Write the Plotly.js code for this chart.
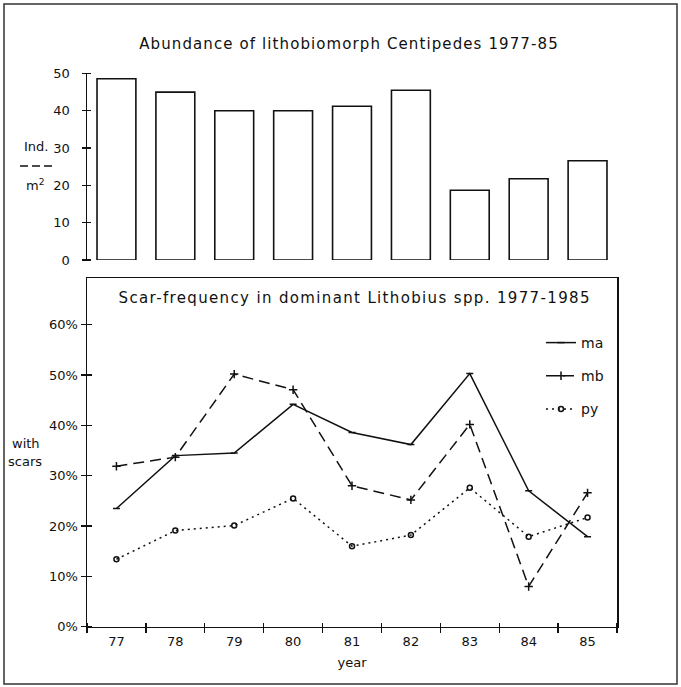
<!DOCTYPE html>
<html>
<head>
<meta charset="utf-8">
<script src="https://cdn.plot.ly/plotly-3.0.1.min.js"></script>
<style>
html,body{margin:0;padding:0;background:#fff;}
g.annotation[data-index="0"] text {letter-spacing: 1.1px;}
g.annotation[data-index="1"] text {letter-spacing: 1.35px;}
</style>
</head>
<body>
<div id="chart" style="width:681px;height:687px;"></div>
<script>
// Data
const years = [77, 78, 79, 80, 81, 82, 83, 84, 85];
const abundance = [48.6, 45.0, 40.0, 40.0, 41.2, 45.5, 18.7, 21.8, 26.6];
const ma = [23.5, 34.0, 34.5, 44.2, 38.6, 36.2, 50.3, 27.0, 17.9];
const mb = [31.9, 33.7, 50.2, 47.1, 28.0, 25.2, 40.2, 8.0, 26.6];
const py = [13.4, 19.1, 20.1, 25.5, 16.0, 18.2, 27.6, 17.9, 21.7];
const topTicks = [0, 10, 20, 30, 40, 50];
const bottomTicks = [0, 10, 20, 30, 40, 50, 60];
const bottomTickText = ['0%', '10%', '20%', '30%', '40%', '50%', '60%'];
const yearBounds = [76.5, 77.5, 78.5, 79.5, 80.5, 81.5, 82.5, 83.5, 84.5, 85.5];

const W = 681, H = 687;
const px = v => v / W;
const py_ = v => 1 - v / H;
const FONT = 'DejaVu Sans, Liberation Sans, sans-serif';
const ink = '#111';

const xDomain = [px(87), px(617)];
const xRange = [76.5, 85.5];
const topDomain = [py_(260), py_(73.5)];
const botDomain = [py_(626.7), py_(278)];
const botRange = [0, 69.3];

// invisible helper point (outside the range) so the tick-only overlay axes are built
const helper = (xa, ya) => ({type: 'scatter', mode: 'markers', x: [70], y: [-100], xaxis: xa, yaxis: ya,
  marker: {opacity: 0, size: 1}, showlegend: false, hoverinfo: 'skip'});

const traces = [
  {type: 'bar', x: years, y: abundance, xaxis: 'x', yaxis: 'y', width: 0.66,
   marker: {color: '#fff', line: {color: ink, width: 1.6}}, showlegend: false, hoverinfo: 'skip'},
  {type: 'scatter', mode: 'lines+markers', name: 'ma', x: years, y: ma, xaxis: 'x2', yaxis: 'y2',
   legendgroup: 'a', line: {color: ink, width: 1.5},
   marker: {symbol: 'line-ew-open', size: 5, color: ink, line: {color: ink, width: 1.5}}},
  {type: 'scatter', mode: 'lines+markers', name: 'mb', x: years, y: mb, xaxis: 'x2', yaxis: 'y2',
   legendgroup: 'b', line: {color: ink, width: 1.5, dash: '11px,6px'},
   marker: {symbol: 'cross-thin-open', size: 6, color: ink, line: {color: ink, width: 1.5}}},
  {type: 'scatter', mode: 'lines+markers', name: 'py', x: years, y: py, xaxis: 'x2', yaxis: 'y2',
   legendgroup: 'c', line: {color: ink, width: 1.5, dash: '2px,4px'},
   marker: {symbol: 'circle-open', size: 5, color: ink, line: {color: ink, width: 1.5}}},
  helper('x3', 'y2'),
  helper('x', 'y3'),
  helper('x2', 'y4')
];

const tickFont = {family: FONT, size: 13, color: ink};
const baseAx = {showgrid: false, zeroline: false, fixedrange: true, tickcolor: ink, tickwidth: 1.3};

const layout = {
  width: W, height: H,
  margin: {l: 0, r: 0, t: 0, b: 0},
  paper_bgcolor: '#fff', plot_bgcolor: 'rgba(0,0,0,0)',
  showlegend: true,
  font: {family: FONT, color: ink},
  xaxis: Object.assign({}, baseAx, {domain: xDomain, range: xRange, anchor: 'y', visible: false}),
  yaxis: Object.assign({}, baseAx, {domain: topDomain, range: [0, 50], anchor: 'x',
    tickmode: 'array', tickvals: topTicks, ticks: 'outside', ticklen: 4,
    showline: true, linecolor: ink, linewidth: 1.5, tickfont: tickFont, ticklabelstandoff: 9}),
  // tick-only axis shifted right so its ticks cross the main axis line
  yaxis3: Object.assign({}, baseAx, {domain: topDomain, range: [0, 50], overlaying: 'y', side: 'left',
    anchor: 'free', position: px(91), tickmode: 'array', tickvals: topTicks, ticks: 'outside', ticklen: 8,
    showticklabels: false, showline: false}),
  xaxis2: Object.assign({}, baseAx, {domain: xDomain, range: xRange, anchor: 'y2',
    tickmode: 'array', tickvals: years, ticks: '', showline: true, mirror: true,
    linecolor: ink, linewidth: 1.5, tickfont: tickFont, ticklabelstandoff: 2,
    title: {text: 'year', font: {family: FONT, size: 13, color: ink}, standoff: 10}}),
  xaxis3: Object.assign({}, baseAx, {domain: xDomain, range: xRange, overlaying: 'x2', side: 'bottom',
    anchor: 'free', position: py_(621.7), tickmode: 'array', tickvals: yearBounds, ticks: 'outside', ticklen: 10,
    showticklabels: false, showline: false}),
  yaxis2: Object.assign({}, baseAx, {domain: botDomain, range: botRange, anchor: 'x2',
    tickmode: 'array', tickvals: bottomTicks, ticktext: bottomTickText, ticks: 'outside', ticklen: 5,
    showline: true, mirror: true, linecolor: ink, linewidth: 1.5, tickfont: tickFont}),
  yaxis4: Object.assign({}, baseAx, {domain: botDomain, range: botRange, overlaying: 'y2', side: 'left',
    anchor: 'free', position: px(92), tickmode: 'array', tickvals: bottomTicks, ticks: 'outside', ticklen: 10,
    showticklabels: false, showline: false}),
  legend: {x: px(541), xanchor: 'left', y: py_(327), yanchor: 'top',
    bgcolor: 'rgba(0,0,0,0)', borderwidth: 0, traceorder: 'grouped', tracegroupgap: 12,
    font: {family: FONT, size: 14, color: ink}, itemwidth: 30},
  annotations: [
    {text: 'Abundance of lithobiomorph Centipedes 1977-85', xref: 'paper', yref: 'paper',
     x: px(349), y: py_(44), xanchor: 'center', yanchor: 'middle', showarrow: false,
     font: {family: FONT, size: 15, color: ink}},
    {text: 'Scar-frequency in dominant Lithobius spp. 1977-1985', xref: 'paper', yref: 'paper',
     x: px(354), y: py_(298), xanchor: 'center', yanchor: 'middle', showarrow: false,
     font: {family: FONT, size: 15, color: ink}},
    {text: 'Ind.', xref: 'paper', yref: 'paper', x: px(36), y: py_(147), xanchor: 'center', yanchor: 'middle',
     showarrow: false, font: {family: FONT, size: 13, color: ink}},
    {text: 'm<sup>2</sup>', xref: 'paper', yref: 'paper', x: px(35), y: py_(185), xanchor: 'center', yanchor: 'middle',
     showarrow: false, font: {family: FONT, size: 13, color: ink}},
    {text: 'with', xref: 'paper', yref: 'paper', x: px(26), y: py_(443), xanchor: 'center', yanchor: 'middle',
     showarrow: false, font: {family: FONT, size: 13, color: ink}},
    {text: 'scars', xref: 'paper', yref: 'paper', x: px(25), y: py_(461), xanchor: 'center', yanchor: 'middle',
     showarrow: false, font: {family: FONT, size: 13, color: ink}}
  ],
  shapes: [
    {type: 'line', xref: 'paper', yref: 'paper', x0: px(20), x1: px(53), y0: py_(166), y1: py_(166),
     line: {color: ink, width: 1.3, dash: '8px,4px'}},
    {type: 'rect', xref: 'paper', yref: 'paper', x0: px(4), x1: px(677), y0: py_(684), y1: py_(4),
     line: {color: '#333', width: 1.5}}
  ]
};

Plotly.newPlot('chart', traces, layout, {staticPlot: true, displayModeBar: false});
</script>
</body>
</html>
